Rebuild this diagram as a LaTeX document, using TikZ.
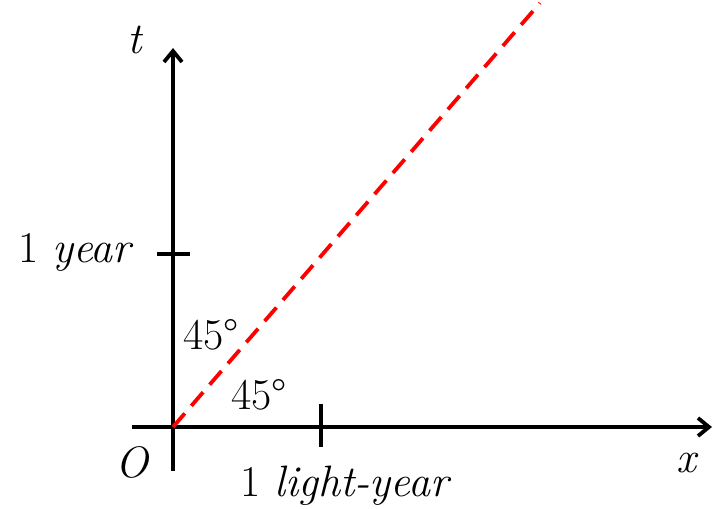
\documentclass[tikz,border=0pt]{standalone}
\usepackage{fontspec}
\usetikzlibrary{arrows.meta}
\begin{document}
\begin{tikzpicture}[x=1pt,y=-1pt,
  axis/.style={line width=3.8pt,-{Straight Barb[length=11pt,width=18pt,line width=3.8pt]}},
  tick/.style={line width=3.8pt},
  lbl/.style={font=\fontsize{44}{48}\selectfont, inner sep=0pt}]
\useasboundingbox (0,0) rectangle (713,509);
\coordinate (O) at (173,427);
\coordinate (ybot) at (173,471);
\coordinate (ytop) at (173,48);
\coordinate (xleft) at (132,427);
\coordinate (xright) at (712,427);
\draw[axis] (ybot) -- (ytop);
\draw[axis] (xleft) -- (xright);
\coordinate (ty1) at (157,254);
\coordinate (ty2) at (190,254);
\draw[tick] (ty1) -- (ty2);
\coordinate (tx1) at (321,404);
\coordinate (tx2) at (321,447);
\draw[tick] (tx1) -- (tx2);
\coordinate (lend) at (540,3);
\draw[red, line width=3.8pt, dash pattern=on 18pt off 10pt] (O) -- (lend);
\node[lbl] (t) at (136,40) {\textit{t}};
\node[lbl, anchor=east] (yr) at (134,252) {1 \textit{year}};
\node[lbl] (a1) at (211,335) {45°};
\node[lbl] (a2) at (259,395) {45°};
\node[lbl] (o) at (133,462) {\textit{O}};
\node[lbl] (ly) at (346,486) {1 \textit{light-year}};
\node[lbl] (x) at (688,463) {\textit{x}};
\end{tikzpicture}
\end{document}
